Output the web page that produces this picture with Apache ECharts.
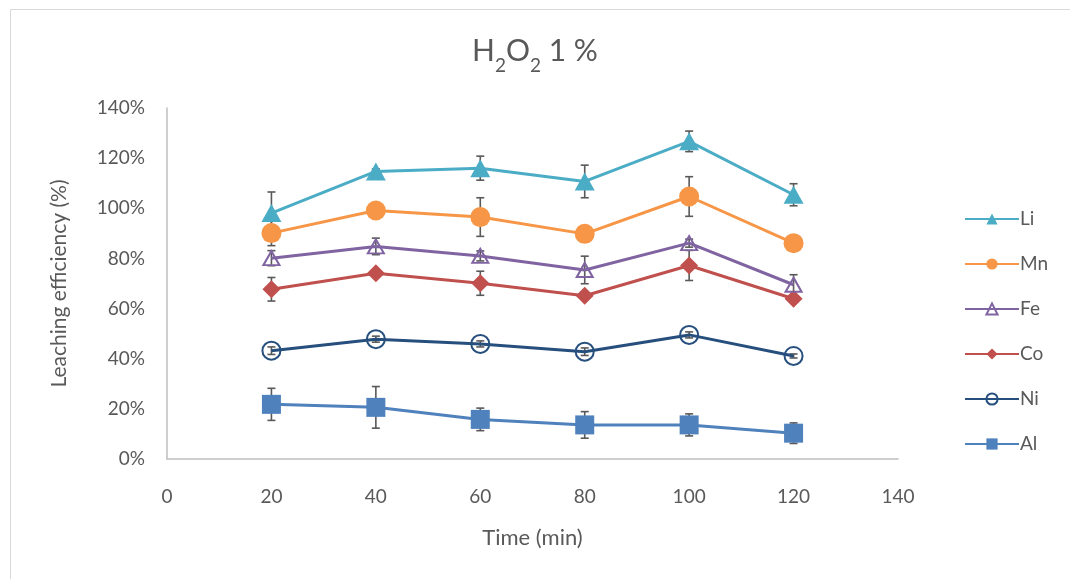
<!DOCTYPE html>
<html>
<head>
<meta charset="utf-8">
<script src="https://cdn.jsdelivr.net/npm/echarts@6/dist/echarts.min.js"></script>
<style>
  html, body { margin: 0; padding: 0; background: #ffffff; }
  #chart { width: 1070px; height: 579px; }
</style>
</head>
<body>
<div id="chart"></div>
<script>
// Leaching time (min)
const times = [20, 40, 60, 80, 100, 120];
const xTicks = [0, 20, 40, 60, 80, 100, 120, 140];
const yTicks = [0, 20, 40, 60, 80, 100, 120, 140];

// Leaching efficiency (%) per metal
const li = [98.1, 114.7, 116.0, 110.7, 126.7, 105.4];
const mn = [90.1, 99.1, 96.5, 89.8, 104.7, 86.1];
const fe = [80.1, 84.8, 81.0, 75.4, 86.1, 69.5];
const co = [67.7, 74.1, 70.1, 65.1, 77.2, 63.9];
const ni = [43.2, 47.8, 45.9, 42.8, 49.5, 41.1];
const al = [21.8, 20.6, 15.8, 13.6, 13.6, 10.3];

// Standard deviation (%) per metal
const liErr = [8.4, 1.0, 4.8, 6.5, 4.1, 4.4];
const mnErr = [5.0, 0.8, 7.7, 0.8, 7.9, 0.8];
const feErr = [3.0, 3.3, 2.0, 5.5, 1.6, 4.0];
const coErr = [4.7, 0.8, 4.8, 0.8, 6.0, 0.8];
const niErr = [1.5, 1.2, 1.2, 1.5, 1.2, 0.8];
const alErr = [6.4, 8.3, 4.5, 5.3, 4.4, 4.1];

const FONT = 'Lato, "Open Sans", sans-serif';
const TEXT = '#595959';
const ERR = '#595959';

const metals = [
  { name: 'Li', values: li, err: liErr, color: '#4BACC6', symbol: 'triangle', size: [20, 18], hollow: false },
  { name: 'Mn', values: mn, err: mnErr, color: '#F79646', symbol: 'circle', size: 20, hollow: false },
  { name: 'Fe', values: fe, err: feErr, color: '#8064A2', symbol: 'triangle', size: [16, 14], hollow: true },
  { name: 'Co', values: co, err: coErr, color: '#C0504D', symbol: 'diamond', size: [18, 18], hollow: false },
  { name: 'Ni', values: ni, err: niErr, color: '#264F7E', symbol: 'circle', size: 18, hollow: true },
  { name: 'Al', values: al, err: alErr, color: '#4F81BD', symbol: 'rect', size: 19, hollow: false }
];

function pairs(vals) {
  return times.map((t, i) => [t, vals[i]]);
}

function errorData(vals, errs) {
  return times.map((t, i) => [t, vals[i] - errs[i], vals[i] + errs[i]]);
}

// Whisker with caps drawn through the axis scales
function renderError(params, api) {
  const x = api.value(0);
  const lo = api.coord([x, api.value(1)]);
  const hi = api.coord([x, api.value(2)]);
  const half = 4;
  const style = { stroke: ERR, lineWidth: 1.6 };
  return {
    type: 'group',
    children: [
      { type: 'line', shape: { x1: lo[0], y1: lo[1], x2: hi[0], y2: hi[1] }, style },
      { type: 'line', shape: { x1: hi[0] - half, y1: hi[1], x2: hi[0] + half, y2: hi[1] }, style },
      { type: 'line', shape: { x1: lo[0] - half, y1: lo[1], x2: lo[0] + half, y2: lo[1] }, style }
    ]
  };
}

const series = [];
metals.forEach((m, idx) => {
  series.push({
    name: m.name,
    type: 'line',
    data: pairs(m.values),
    symbol: m.symbol,
    symbolSize: m.size,
    showAllSymbol: true,
    z: 10 - idx,
    lineStyle: { color: m.color, width: 3 },
    itemStyle: m.hollow
      ? { color: 'rgba(255,255,255,0)', borderColor: m.color, borderWidth: 2 }
      : { color: m.color, borderColor: m.color, borderWidth: 0 },
    emphasis: { disabled: true },
    animation: false
  });
});
// Whiskers sit beneath the markers
metals.forEach((m) => {
  series.push({
    name: m.name + ' error',
    type: 'custom',
    renderItem: renderError,
    data: errorData(m.values, m.err),
    encode: { x: 0, y: [1, 2] },
    z: 1,
    silent: true,
    animation: false
  });
});

const chart = echarts.init(document.getElementById('chart'), null, { renderer: 'canvas' });
chart.setOption({
  backgroundColor: '#ffffff',
  animation: false,
  title: {
    text: '{m|H}{s|2}{m|O}{s|2}{m| 1 %}',
    left: 'center',
    top: 25,
    textStyle: {
      fontWeight: 'normal',
      rich: {
        m: { fontFamily: FONT, fontSize: 30, fontWeight: 'normal', color: TEXT, verticalAlign: 'bottom', lineHeight: 36 },
        s: { fontFamily: FONT, fontSize: 19, fontWeight: 'normal', color: TEXT, verticalAlign: 'bottom', lineHeight: 36, padding: [0, 0, -9, 0] }
      }
    }
  },
  legend: {
    orient: 'vertical',
    left: 959,
    top: 204,
    itemGap: 25,
    itemWidth: 54,
    itemHeight: 14,
    data: metals.map(m => m.name),
    textStyle: { fontFamily: FONT, fontSize: 19, color: TEXT, lineHeight: 20, padding: [0, 0, 0, -4] }
  },
  grid: { left: 167, right: 172, top: 108, bottom: 120, containLabel: false },
  xAxis: {
    type: 'value',
    min: xTicks[0],
    max: xTicks[xTicks.length - 1],
    interval: xTicks[1] - xTicks[0],
    name: 'Time (min)',
    nameLocation: 'middle',
    nameGap: 68,
    nameTextStyle: { fontFamily: FONT, fontSize: 22, color: TEXT },
    axisLine: { lineStyle: { color: '#BFBFBF', width: 1.5 } },
    axisTick: { show: false },
    splitLine: { show: false },
    axisLabel: { fontFamily: FONT, fontSize: 19, color: TEXT, margin: 28 }
  },
  yAxis: {
    type: 'value',
    min: yTicks[0],
    max: yTicks[yTicks.length - 1],
    interval: yTicks[1] - yTicks[0],
    name: 'Leaching efficiency (%)',
    nameLocation: 'middle',
    nameRotate: 90,
    nameGap: 97,
    nameTextStyle: { fontFamily: FONT, fontSize: 21, color: TEXT },
    axisLine: { show: true, lineStyle: { color: '#BFBFBF', width: 1.5 } },
    axisTick: { show: false },
    splitLine: { show: false },
    axisLabel: { fontFamily: FONT, fontSize: 19, color: TEXT, margin: 22, formatter: '{value}%' }
  },
  graphic: [{
    type: 'rect',
    left: 8,
    top: 7,
    shape: { width: 1100, height: 600 },
    style: { fill: 'none', stroke: '#D9D9D9', lineWidth: 1 },
    silent: true,
    z: -1
  }],
  series
});
</script>
</body>
</html>
